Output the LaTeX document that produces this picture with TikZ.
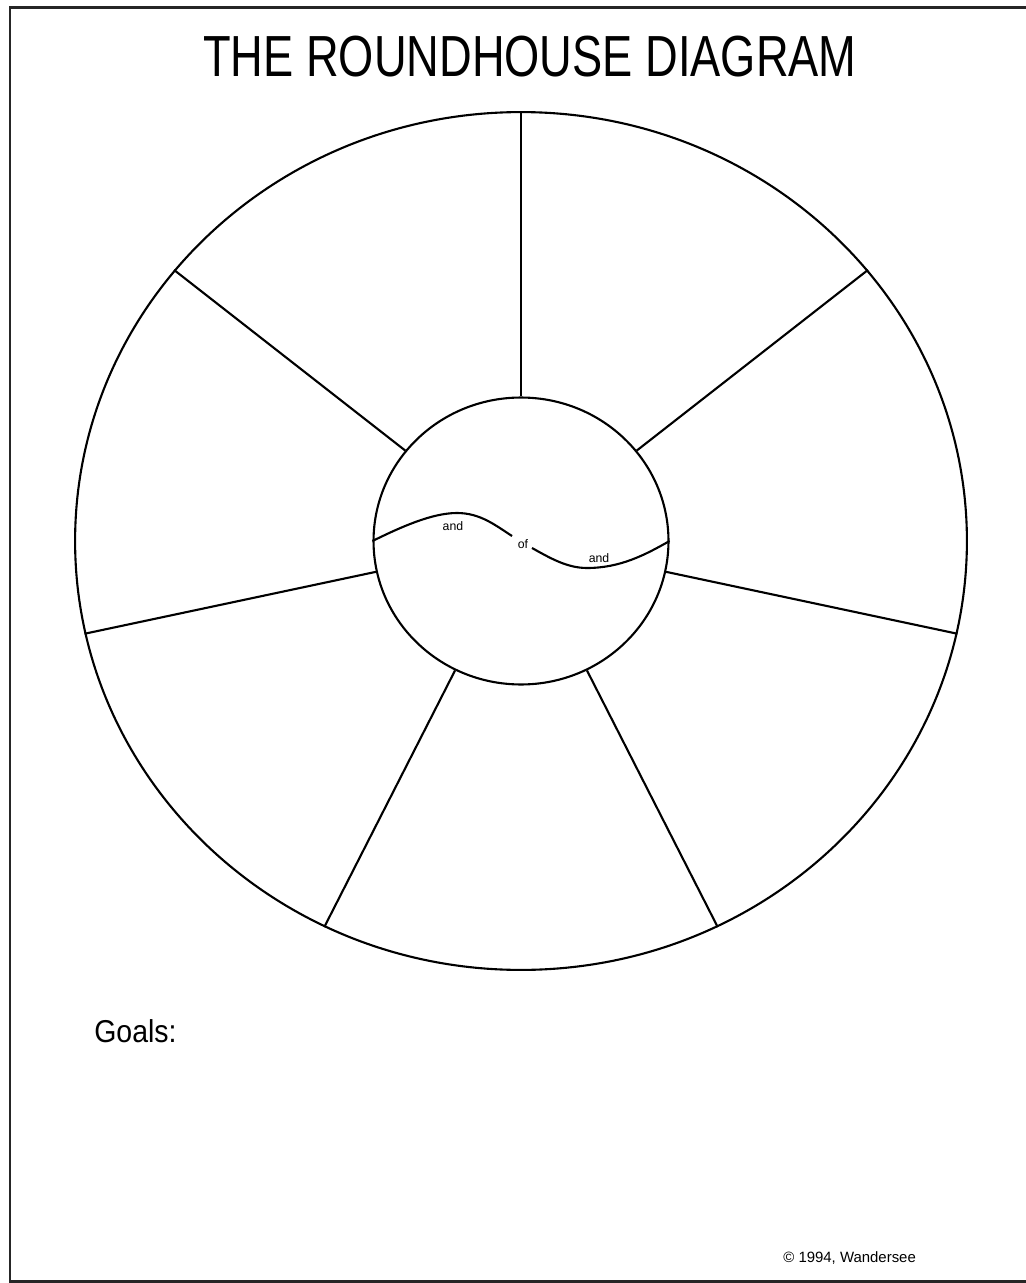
\documentclass[tikz,border=0pt]{standalone}
\usepackage{fontspec}
\setmainfont{Liberation Sans}
\newfontfamily\titlefont[FakeStretch=0.78]{Liberation Sans}
\newfontfamily\goalsfont[FakeStretch=0.9]{Liberation Sans}
\usetikzlibrary{shapes.geometric}
\begin{document}
\begin{tikzpicture}[x=0.02cm,y=-0.02cm,
  ring/.style={draw,ellipse,inner sep=0pt,line width=1.2pt},
  spoke/.style={line width=1.2pt},
  wave/.style={line width=1.2pt},
  tinylabel/.style={font=\fontsize{7}{8}\selectfont,inner sep=0pt,anchor=base},
  frame/.style={line width=1.7pt,draw=black!85}]
\useasboundingbox (0,0) rectangle (1025,1283);
\draw[frame] (10,8) rectangle (1040,1281);
\node[anchor=base,inner sep=0pt,font=\titlefont\fontsize{33}{36}\selectfont] (title) at (530,77) {THE ROUNDHOUSE DIAGRAM};
\node[ring,minimum width=17.84cm,minimum height=17.16cm] (outer) at (521,541) {};
\node[ring,minimum width=5.9cm,minimum height=5.74cm] (inner) at (521,541) {};
\foreach \a in {90,38,142,-12.3,192.3,-63,243}
  \draw[spoke] (inner.\a) -- (outer.\a);
\node[tinylabel] (and1) at (453,530) {and};
\node[tinylabel] (of) at (523,548) {of};
\node[tinylabel] (and2) at (599,562) {and};
\coordinate (w1) at (512,536);
\coordinate (w2) at (532,548);
\draw[wave] (inner.west) .. controls (401,527) and (432,513) .. (457,513)
  .. controls (480,513) and (495,525) .. (w1);
\draw[wave] (w2) .. controls (550,558) and (567,568) .. (587,568)
  .. controls (620,568) and (645,555) .. (inner.east);
\node[anchor=base west,inner sep=0pt,font=\goalsfont\fontsize{18}{20}\selectfont] (goals) at (94,1042) {Goals:};
\node[anchor=base west,inner sep=0pt,font=\fontsize{8.5}{10}\selectfont] (copy) at (783,1262) {© 1994, Wandersee};
\end{tikzpicture}
\end{document}
